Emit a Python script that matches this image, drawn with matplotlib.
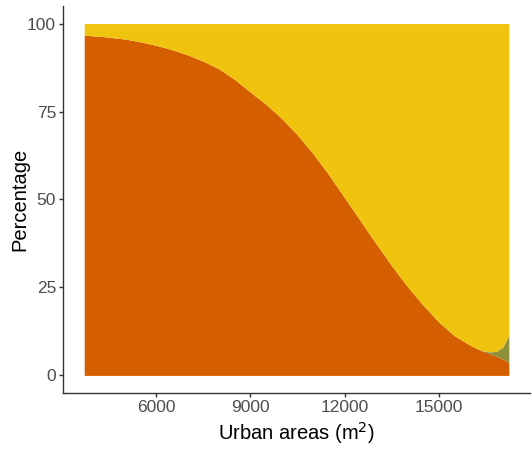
import numpy as np
import matplotlib
matplotlib.use("Agg")
import matplotlib.pyplot as plt

plt.rcParams["font.family"] = ["Liberation Sans", "DejaVu Sans"]

# urban area (m2) and share (%) of each class
urban = [3700, 4300, 5000, 5500, 6000, 6500, 7000, 7500, 8000, 8500,
         9000, 9500, 10000, 10500, 11000, 11500, 12000, 12500, 13000,
         13500, 14000, 14500, 15000, 15500, 16000, 16200, 16400, 16620,
         16830, 17040, 17150, 17240]
pct_red = [96.7, 96.3, 95.6, 94.8, 93.8, 92.6, 91.1, 89.3, 87.1, 84.1,
           80.5, 77.0, 73.0, 68.3, 63.0, 57.0, 50.5, 44.0, 37.5,
           31.2, 25.3, 20.0, 15.2, 11.3, 8.6, 7.7, 6.9, 6.2,
           5.5, 4.7, 4.2, 3.7]
pct_green = [0, 0, 0, 0, 0, 0, 0, 0, 0, 0,
             0, 0, 0, 0, 0, 0, 0, 0, 0,
             0, 0, 0, 0, 0, 0, 0, 0.1, 0.5,
             1.3, 3.3, 5.6, 7.8]
pct_yellow = [100 - r - g for r, g in zip(pct_red, pct_green)]

colors = ["#D55E00", "#8E913C", "#F0C30F"]
xticks = [6000, 9000, 12000, 15000]
yticks = [0, 25, 50, 75, 100]

x = np.array(urban)
r = np.array(pct_red)
g = np.array(pct_green)
yl = np.array(pct_yellow)

fig = plt.figure(figsize=(5.32, 4.5), dpi=100)
ax = fig.add_axes([0.1184, 0.1267, 0.878, 0.86])

ax.fill_between(x, 0, r, color=colors[0], lw=0)
ax.fill_between(x, r, r + g, color=colors[1], lw=0)
ax.fill_between(x, r + g, r + g + yl, color=colors[2], lw=0)

span = x.max() - x.min()
ax.set_xlim(x.min() - 0.05 * span, x.max() + 0.05 * span)
ax.set_ylim(-5, 105)
ax.set_xticks(xticks)
ax.set_xticklabels([str(t) for t in xticks])
ax.set_yticks(yticks)

for s in ["top", "right"]:
    ax.spines[s].set_visible(False)
for s in ["left", "bottom"]:
    ax.spines[s].set_color("#333333")
    ax.spines[s].set_linewidth(1.0)
ax.tick_params(colors="#333333", labelcolor="#4D4D4D", labelsize=12.5,
               length=3, width=1.0, pad=2)

ax.set_xlabel("Urban areas (m$^2$)", fontsize=14.5, color="black", labelpad=4)
ax.set_ylabel("Percentage", fontsize=14.5, color="black", labelpad=-2)

fig.savefig("out.png", dpi=100)
